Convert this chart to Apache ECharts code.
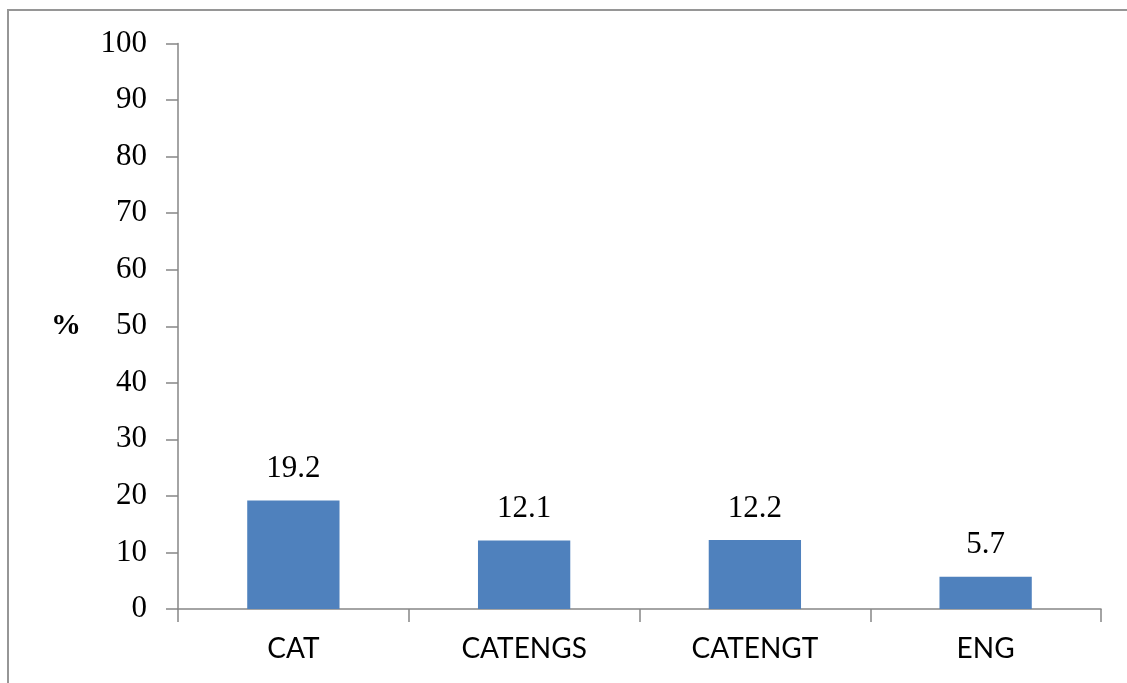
<!DOCTYPE html>
<html>
<head>
<meta charset="utf-8">
<script src="https://cdn.jsdelivr.net/npm/echarts@6/dist/echarts.min.js"></script>
<style>
  html, body { margin: 0; padding: 0; background: #ffffff; overflow: hidden; }
  #chart { width: 1127px; height: 683px; }
</style>
</head>
<body>
<div id="chart"></div>
<script>
// Share of each group, in percent
const categories = ['CAT', 'CATENGS', 'CATENGT', 'ENG'];
const values = [19.2, 12.1, 12.2, 5.7];
const yTicks = { min: 0, max: 100, interval: 10 };

const numFont = 'Liberation Serif';
const catFont = 'Lato';
const axisGrey = '#868686';
const frameGrey = '#969696';

const chart = echarts.init(document.getElementById('chart'), null, { renderer: 'canvas' });

chart.setOption({
  backgroundColor: '#ffffff',
  animation: false,
  // chart-area border: top and left edges
  graphic: [
    {
      type: 'line', silent: true,
      shape: { x1: 7, y1: 10, x2: 1127, y2: 10 },
      style: { stroke: frameGrey, lineWidth: 2 }
    },
    {
      type: 'line', silent: true,
      shape: { x1: 8, y1: 9, x2: 8, y2: 683 },
      style: { stroke: frameGrey, lineWidth: 2 }
    }
  ],
  grid: { left: 178, right: 26, top: 43.5, bottom: 74, containLabel: false },
  xAxis: {
    type: 'category',
    data: categories,
    axisLine: { lineStyle: { color: axisGrey, width: 1.5 } },
    axisTick: { show: true, length: 13, alignWithLabel: false, lineStyle: { color: axisGrey, width: 1.5 } },
    axisLabel: { color: '#000', fontFamily: catFont, fontSize: 28, margin: 26 },
    splitLine: { show: false }
  },
  yAxis: {
    type: 'value',
    min: yTicks.min,
    max: yTicks.max,
    interval: yTicks.interval,
    name: '%',
    nameLocation: 'middle',
    nameRotate: 0,
    nameGap: 97,
    nameTextStyle: { color: '#000', fontFamily: numFont, fontWeight: 'bold', fontSize: 30 },
    axisLine: { show: true, lineStyle: { color: axisGrey, width: 1.5 } },
    axisTick: { show: true, inside: false, length: 12, lineStyle: { color: axisGrey, width: 1.5 } },
    axisLabel: { color: '#000', fontFamily: numFont, fontSize: 31, margin: 31 },
    splitLine: { show: false }
  },
  series: [{
    type: 'bar',
    data: values,
    barWidth: '40%',
    itemStyle: { color: '#4f81bd' },
    label: {
      show: true,
      position: 'top',
      distance: 16,
      color: '#000',
      fontFamily: numFont,
      fontSize: 31,
      formatter: p => p.value.toFixed(1)
    }
  }]
});
</script>
</body>
</html>
